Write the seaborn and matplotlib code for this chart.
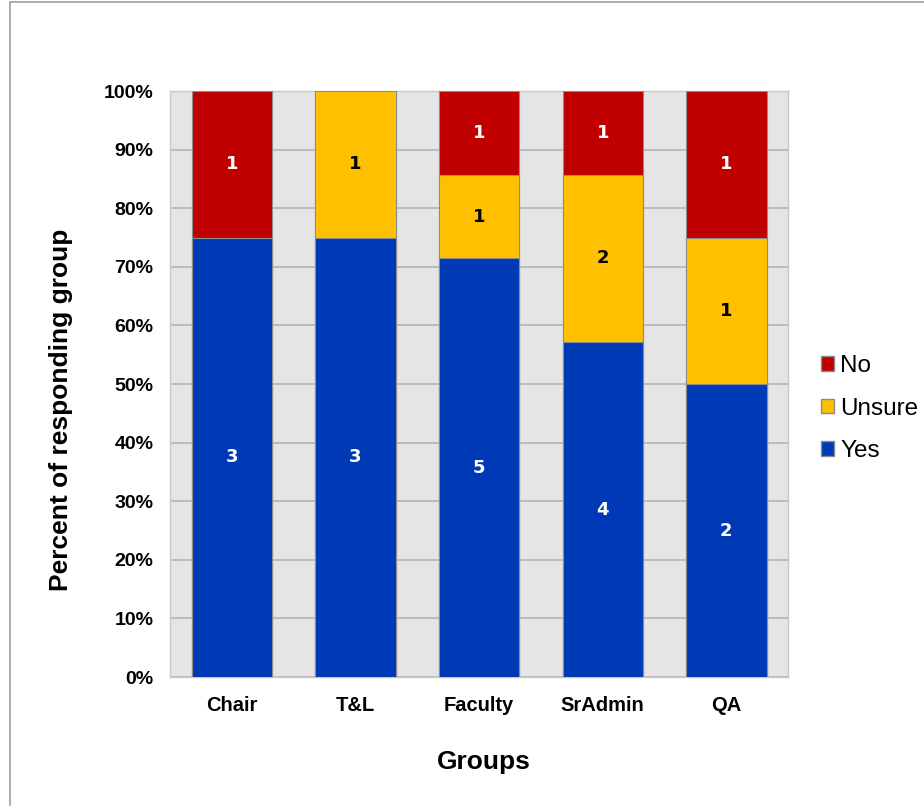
import matplotlib
matplotlib.use("Agg")
import matplotlib.pyplot as plt
from matplotlib.lines import Line2D
from matplotlib.patches import Patch
import seaborn as sns
import numpy as np
import pandas as pd

# Response counts per group
groups = ["Chair", "T&L", "Faculty", "SrAdmin", "QA"]
yes = [3, 3, 5, 4, 2]
unsure = [0, 1, 1, 2, 1]
no = [1, 0, 1, 1, 1]
y_ticks = [0, 10, 20, 30, 40, 50, 60, 70, 80, 90, 100]

c_yes = "#0039B5"
c_unsure = "#FFC000"
c_no = "#C00000"

yes_a = np.array(yes, float)
uns_a = np.array(unsure, float)
no_a = np.array(no, float)
total = yes_a + uns_a + no_a
p_yes = yes_a / total * 100
p_uns = uns_a / total * 100
p_no = no_a / total * 100

df = pd.DataFrame({
    "group": groups,
    "yes": p_yes,
    "yes_unsure": p_yes + p_uns,
    "all": p_yes + p_uns + p_no,
})

sns.set_theme(style="white")
plt.rcParams["font.family"] = ["Liberation Sans", "DejaVu Sans"]
plt.rcParams["text.color"] = "black"
plt.rcParams["axes.labelcolor"] = "black"
plt.rcParams["xtick.color"] = "black"
plt.rcParams["ytick.color"] = "black"

fig = plt.figure(figsize=(9.24, 8.06), dpi=100)
ax = fig.add_axes([0.184, 0.160, 0.669, 0.727])
ax.set_facecolor("#E5E5E5")

edge = dict(edgecolor="#8C8C8C", linewidth=0.8)
# Cumulative layers drawn back to front give the stacked look
sns.barplot(data=df, x="group", y="all", color=c_no, width=0.65, saturation=1,
            ax=ax, zorder=3, **edge)
sns.barplot(data=df, x="group", y="yes_unsure", color=c_unsure, width=0.65,
            saturation=1, ax=ax, zorder=3, **edge)
sns.barplot(data=df, x="group", y="yes", color=c_yes, width=0.65, saturation=1,
            ax=ax, zorder=3, **edge)

ax.set_xlim(-0.5, 4.5)
ax.set_ylim(0, 100)
ax.set_yticks(y_ticks)
ax.set_yticklabels([f"{t}%" for t in y_ticks], fontsize=14, fontweight="bold")
ax.set_xticks(range(len(groups)))
ax.set_xticklabels(groups, fontsize=14.5, fontweight="bold")
ax.tick_params(axis="both", length=0, labelcolor="black")
ax.tick_params(axis="y", pad=12)
ax.tick_params(axis="x", pad=14)
ax.yaxis.grid(True, color="#B4B4B4", linewidth=1.2, zorder=0)
ax.set_axisbelow(True)
for s in ax.spines.values():
    s.set_color("#C8C8C8")
    s.set_linewidth(1)

ax.set_xlabel("Groups", fontsize=19, fontweight="bold", color="black")
ax.xaxis.set_label_coords(0.508, -0.125)
ax.set_ylabel("Percent of responding group", fontsize=19, fontweight="bold",
              color="black")
ax.yaxis.set_label_coords(-0.157, 0.456)

# Count labels centred in each segment
lab_font = ["DejaVu Sans"]
for i in range(len(groups)):
    segs = [(0, p_yes[i], yes[i], "white"),
            (p_yes[i], p_uns[i], unsure[i], "black"),
            (p_yes[i] + p_uns[i], p_no[i], no[i], "white")]
    for base, h, n, col in segs:
        if n > 0:
            ax.text(i, base + h / 2, str(n), ha="center", va="center",
                    color=col, fontsize=13, fontweight="bold", family=lab_font,
                    zorder=5)

handles = [Patch(facecolor=c_no, edgecolor="#8C8C8C", label="No"),
           Patch(facecolor=c_unsure, edgecolor="#8C8C8C", label="Unsure"),
           Patch(facecolor=c_yes, edgecolor="#8C8C8C", label="Yes")]
fig.legend(handles=handles, loc="center left", bbox_to_anchor=(0.878, 0.493),
           frameon=False, fontsize=17.5, handlelength=0.55, handleheight=0.55,
           handletextpad=0.25, labelspacing=0.85, borderaxespad=0,
           labelcolor="black")

# Slide frame lines on the top and left
fig.add_artist(Line2D([0.011, 1.0], [0.997, 0.997], transform=fig.transFigure,
                      color="#A0A0A0", linewidth=1.2))
fig.add_artist(Line2D([0.011, 0.011], [0.0, 0.997], transform=fig.transFigure,
                      color="#A0A0A0", linewidth=1.2))

fig.savefig("out.png", dpi=100)
